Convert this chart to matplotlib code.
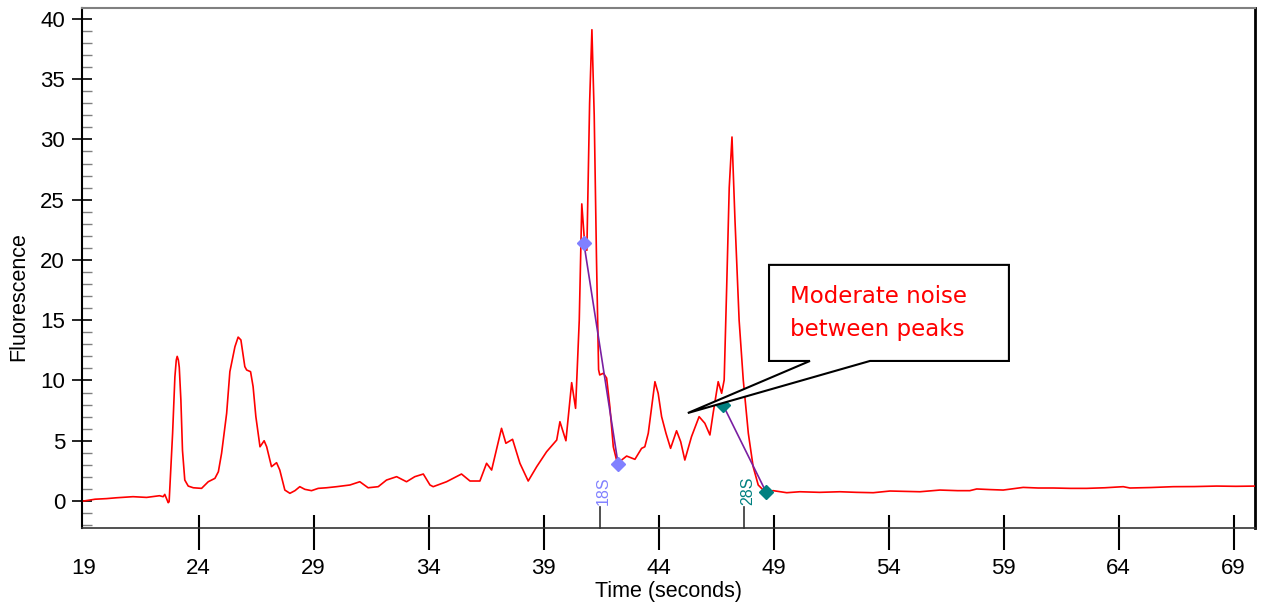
import numpy as np
import matplotlib
matplotlib.use("Agg")
import matplotlib.pyplot as plt
from matplotlib.patches import Polygon
from matplotlib.ticker import MultipleLocator, FixedLocator

plt.rcParams['font.family'] = ['Liberation Sans', 'DejaVu Sans']

# electropherogram trace
time = [19.0, 19.5, 20.0, 20.43, 21.15, 21.74, 22.3, 22.46, 22.53, 22.68, 22.72,
        22.87, 22.97, 23.03, 23.07, 23.12, 23.16, 23.23, 23.30, 23.40, 23.55, 23.77, 24.13,
        24.42, 24.71, 24.86, 25.0, 25.22, 25.36, 25.58, 25.72, 25.84, 26.01,
        26.09, 26.26, 26.37, 26.49, 26.67, 26.85, 26.96, 27.17, 27.39, 27.53,
        27.75, 27.97, 28.19, 28.4, 28.62, 28.91, 29.2, 29.56, 30.0, 30.58,
        31.01, 31.37, 31.81, 32.17, 32.61, 33.04, 33.4, 33.77, 34.06, 34.2,
        34.78, 35.43, 35.8, 36.23, 36.52, 36.74, 37.17, 37.36, 37.65, 37.97,
        38.33, 38.7, 39.13, 39.57, 39.71, 39.97, 40.22, 40.39, 40.55, 40.66,
        40.76, 40.88, 41.0, 41.1, 41.2, 41.3, 41.39, 41.44, 41.6, 41.74,
        41.88, 42.03, 42.2, 42.39, 42.61, 42.97, 43.26, 43.4, 43.55, 43.84,
        43.98, 44.13, 44.32, 44.52, 44.78, 44.96, 45.14, 45.43, 45.76, 46.01,
        46.23, 46.37, 46.59, 46.74, 46.85, 46.96, 47.07, 47.19, 47.32, 47.5,
        47.68, 47.9, 48.11, 48.33, 48.62, 48.98, 49.57, 50.14, 51.0, 51.88,
        52.6, 53.33, 54.06, 54.7, 55.36, 56.23, 57.0, 57.53, 57.83, 58.4,
        58.98, 59.85, 60.5, 61.16, 61.9, 62.61, 63.4, 64.2, 64.49, 65.4,
        66.37, 67.3, 68.26, 69.1, 69.93]
fluor = [0.0, 0.15, 0.2, 0.27, 0.36, 0.3, 0.44, 0.36, 0.55, -0.14, -0.05,
         5.6, 10.3, 11.7, 12.0, 11.7, 11.1, 8.4, 4.2, 1.74, 1.24, 1.1, 1.05,
         1.6, 1.88, 2.43, 3.96, 7.28, 10.73, 12.8, 13.6, 13.36, 11.15,
         10.87, 10.73, 9.49, 7.0, 4.5, 5.0, 4.5, 2.85, 3.18, 2.57,
         0.91, 0.64, 0.86, 1.19, 0.97, 0.86, 1.05, 1.1, 1.19, 1.33,
         1.6, 1.1, 1.19, 1.74, 2.02, 1.6, 2.02, 2.24, 1.33, 1.19,
         1.6, 2.24, 1.66, 1.66, 3.13, 2.57, 6.03, 4.79, 5.12, 3.13,
         1.66, 2.85, 4.09, 5.06, 6.58, 5.0, 9.82, 7.69, 15.0, 24.65,
         22.0, 20.8, 33.0, 39.1, 32.0, 20.0, 10.9, 10.46, 10.6, 10.2,
         7.83, 4.5, 3.18, 3.4, 3.73, 3.46, 4.37, 4.5, 5.62, 9.9,
         8.94, 7.0, 5.62, 4.37, 5.83, 4.92, 3.4, 5.34, 7.0, 6.45,
         5.48, 7.28, 9.9, 8.94, 10.04, 17.8, 26.0, 30.2, 23.3, 15.0,
         10.04, 5.62, 2.85, 1.33, 0.77, 0.86, 0.69, 0.77, 0.72, 0.77,
         0.72, 0.69, 0.83, 0.8, 0.77, 0.91, 0.86, 0.86, 1.0, 0.95,
         0.91, 1.13, 1.08, 1.08, 1.05, 1.05, 1.1, 1.19, 1.08, 1.12,
         1.19, 1.2, 1.24, 1.22, 1.24]

# ribosomal peak regions (start/end markers) and labels
s18_x = [40.75, 42.24]
s18_y = [21.4, 3.07]
s28_x = [46.8, 48.67]
s28_y = [7.97, 0.75]
peak_names = ['18S', '28S']
peak_pos = [41.45, 47.71]
peak_cols = ['#8080ff', '#008080']

fig = plt.figure(figsize=(12.63, 6.11), dpi=100)
ax = fig.add_axes([0.0649, 0.1358, 0.9288, 0.8511])

ax.plot(time, fluor, color='#ff0000', lw=1.2, zorder=3)
ax.plot(s18_x, s18_y, color='#7a1fa2', lw=1.2, zorder=4)
ax.plot(s28_x, s28_y, color='#7a1fa2', lw=1.2, zorder=4)
ax.plot(s18_x, s18_y, ls='none', marker='D', ms=7, color=peak_cols[0], zorder=5)
ax.plot(s28_x, s28_y, ls='none', marker='D', ms=7, color=peak_cols[1], zorder=5)

ax.set_xlim(18.93, 69.93)
ax.set_ylim(-2.24, 40.9)

# peak marks on the time axis
for nm, px, c in zip(peak_names, peak_pos, peak_cols):
    ax.plot([px, px], [-2.24, -0.47], color='#333333', lw=1.2, zorder=2, clip_on=False)
    ax.text(px + 0.15, -0.3, nm, rotation=90, color=c, fontsize=11.5,
            ha='center', va='bottom')

# callout box
tip = (45.27, 7.3)
box = [(48.8, 19.59), (59.23, 19.59), (59.23, 11.62), (53.19, 11.62), tip,
       (50.58, 11.62), (48.8, 11.62)]
ax.add_patch(Polygon(box, closed=True, facecolor='white', edgecolor='black',
                     lw=1.5, zorder=6))
ax.text(49.71, 15.6, "Moderate noise\nbetween peaks", color='#ff0000',
        fontsize=16.5, family=['DejaVu Sans'], ha='left', va='center',
        linespacing=1.55, zorder=7)

# axes styling
ax.spines['top'].set_color('#808080')
ax.spines['top'].set_linewidth(1.5)
ax.spines['right'].set_color('black')
ax.spines['right'].set_linewidth(2)
ax.spines['left'].set_linewidth(1.5)
ax.spines['bottom'].set_color('#333333')
ax.spines['bottom'].set_linewidth(1.2)

ax.yaxis.set_major_locator(MultipleLocator(5))
ax.yaxis.set_minor_locator(MultipleLocator(1))
ax.tick_params(axis='y', which='major', direction='inout', length=14.4, width=1.2,
               labelsize=16, pad=5)
ax.tick_params(axis='y', which='minor', direction='in', length=7.2, width=1,
               color='#808080')

xt = list(range(19, 70, 5))
ax.xaxis.set_major_locator(FixedLocator(xt))
ax.xaxis.set_minor_locator(FixedLocator(xt))
ax.xaxis.remove_overlapping_locs = False
ax.tick_params(axis='x', which='major', direction='out', length=15.8, width=1.5,
               labelsize=16, pad=6)
ax.tick_params(axis='x', which='minor', direction='in', length=9.4, width=1.5)
# no tick mark at the left edge (19), only its label
ax.xaxis.get_major_ticks()[0].tick1line.set_visible(False)
ax.xaxis.get_minor_ticks()[0].tick1line.set_visible(False)

ax.set_xlabel('Time (seconds)', fontsize=15.5, labelpad=1)
ax.set_ylabel('Fluorescence', fontsize=15.5)
ax.yaxis.set_label_coords(-0.045, 0.445)

fig.savefig('out.png', dpi=100)
